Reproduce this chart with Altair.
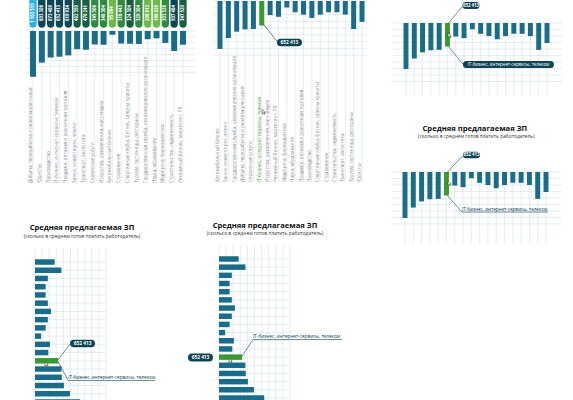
import altair as alt
import pandas as pd

# ---------------- data ----------------
RANK_CATS = [
    "Добыча, переработка и реализация сырья", "Юристы", "Производство",
    "IT-бизнес, интернет-сервисы, телеком", "Продажи, оптовая и розничная торговля",
    "Банки, инвестиции, лизинг", "Транспорт, логистика", "Сервисные услуги",
    "Искусство, развлечения, масс-медиа", "Автомобильный бизнес", "Страхование",
    "Спортивные клубы, фитнес, салоны красоты", "Туризм, гостиницы, рестораны",
    "Государственная служба, некоммерческие организации", "Наука, образование",
    "Медицина, фармацевтика", "Строительство, недвижимость", "Рекламный бизнес, маркетинг, PR",
]
RANK_VALUES = [1163515, 803308, 673469, 652413, 619934, 462350, 476241, 345508, 346304,
               95094, 318443, 324304, 329304, 208913, 186028, 303528, 507464, 347520]
CYAN, DTEAL, DGREEN, MGREEN, LGREEN = "#2ab4e6", "#0d4656", "#17603f", "#2e8b3e", "#6cbb47"
RANK_PILL_COLORS = [CYAN, DTEAL, DTEAL, DTEAL, DTEAL, DGREEN, DGREEN, MGREEN, MGREEN,
                    LGREEN, MGREEN, DGREEN, MGREEN, LGREEN, LGREEN, MGREEN, DTEAL, DGREEN]

CATS = [
    "Автомобильный бизнес", "Банки, инвестиции, лизинг",
    "Государственная служба, некоммерческие организации",
    "Добыча, переработка и реализация сырья", "Сервисные услуги",
    "IT-бизнес, интернет-сервисы, телеком", "Искусство, развлечения, масс-медиа",
    "Рекламный бизнес, маркетинг, PR", "Медицина, фармацевтика", "Наука, образование",
    "Продажи, оптовая и розничная торговля", "Производство",
    "Спортивные клубы, фитнес, салоны красоты", "Страхование",
    "Строительство, недвижимость", "Транспорт, логистика",
    "Туризм, гостиницы, рестораны", "Юристы",
]
VALUES = [1275000, 985000, 815000, 755000, 745000, 652413, 375000, 420000, 172000,
          300000, 362000, 450000, 362000, 300000, 300000, 362000, 745000, 555000]
HIGHLIGHT = "IT-бизнес, интернет-сервисы, телеком"
TITLE = "Средняя предлагаемая ЗП"
SUBTITLE = "(сколько в среднем готов платить работодатель)"

# ---------------- style ----------------
BAR = "#1a6c88"
GREEN = "#3a9a2f"
DARK = "#0e4454"
GRID = "#d2e1e8"
LABEL = "#8c8c8c"
FONT = "Open Sans"
CURSOR = "M0,0 L0,1.1 L0.3,0.82 L0.5,1.22 L0.66,1.14 L0.46,0.76 L0.82,0.76 Z"


def fmt(v):
    return f"{v:,}".replace(",", " ")


HI_VAL = VALUES[CATS.index(HIGHLIGHT)]
ONE = pd.DataFrame({"k": [0]})
main = pd.DataFrame({
    "cat": CATS, "value": VALUES,
    "color": [GREEN if c == HIGHLIGHT else BAR for c in CATS],
    "lcolor": [GREEN if c == HIGHLIGHT else LABEL for c in CATS],
})
rank = pd.DataFrame({
    "cat": RANK_CATS, "value": RANK_VALUES, "pill": RANK_PILL_COLORS,
    "lab": [fmt(v) for v in RANK_VALUES],
})


def band(cats, rng, pi):
    return alt.Scale(type="band", domain=cats, range=rng, paddingInner=pi, paddingOuter=pi / 2)


def lin(dom, rng):
    return alt.Scale(type="linear", domain=dom, range=rng, nice=False)


def pill(xe, ye, x2e, y2e, cx, cy, w, h, color=DARK):
    return alt.Chart(ONE).mark_rule(
        strokeWidth=h, strokeCap="round", color=color,
        xOffset=cx - (w - h) / 2, x2Offset=cx + (w - h) / 2, yOffset=cy, y2Offset=cy,
    ).encode(x=xe, x2=x2e, y=ye, y2=y2e)


def line(xe, ye, x2e, y2e, a, b, c, d, color=DARK, sw=0.6):
    return alt.Chart(ONE).mark_rule(
        strokeWidth=sw, color=color, xOffset=a, yOffset=b, x2Offset=c, y2Offset=d
    ).encode(x=xe, x2=x2e, y=ye, y2=y2e)


def txt(xe, ye, s, dx, dy, size, color="white", weight="bold", align="center", baseline="middle"):
    return alt.Chart(ONE).mark_text(
        font=FONT, fontSize=size, fontWeight=weight, color=color, align=align,
        baseline=baseline, xOffset=dx, yOffset=dy,
    ).encode(x=xe, y=ye, text=alt.value(s))


def cursor(xe, ye, dx, dy):
    return alt.Chart(ONE).mark_point(
        shape=CURSOR, size=64, filled=True, fill="white", stroke="#222222",
        strokeWidth=0.5, opacity=1, xOffset=dx, yOffset=dy,
    ).encode(x=xe, y=ye)


def vertical_base(df, cats, xs, ys, grid_vals, goff, vend, color_field=None, bar_color=BAR):
    X = alt.X("cat:N", scale=xs, axis=None)
    hgrid = alt.Chart(pd.DataFrame({"g": grid_vals})).mark_rule(
        color=GRID, strokeWidth=0.6, xOffset=goff[0], x2Offset=goff[1]
    ).encode(
        x=alt.XDatum(cats[0], type="nominal", scale=xs, axis=None, bandPosition=0.5),
        x2=alt.X2Datum(cats[-1], bandPosition=0.5),
        y=alt.Y("g:Q", scale=ys, axis=None),
    )
    vgrid = alt.Chart(df).mark_rule(color=GRID, strokeWidth=0.6).encode(
        x=X, y=alt.YDatum(0, type="quantitative", scale=ys, axis=None), y2=alt.Y2Datum(vend)
    )
    if color_field:
        bars = alt.Chart(df).mark_bar().encode(
            x=X, y=alt.Y("value:Q", scale=ys, axis=None),
            color=alt.Color(color_field + ":N", scale=None))
    else:
        bars = alt.Chart(df).mark_bar(color=bar_color).encode(
            x=X, y=alt.Y("value:Q", scale=ys, axis=None))
    return [hgrid, vgrid, bars]


def vlabels(df, xs, ys, base, color_field=None):
    enc = dict(x=alt.X("cat:N", scale=xs, axis=None),
               y=alt.YDatum(base, type="quantitative", scale=ys, axis=None), text="cat:N")
    mk = dict(angle=270, align="left", baseline="bottom", fontSize=4.6, font=FONT)
    if color_field:
        return alt.Chart(df).mark_text(**mk).encode(color=alt.Color(color_field + ":N", scale=None), **enc)
    return alt.Chart(df).mark_text(color=LABEL, **mk).encode(**enc)


# ---------------- panel 1: ranked, with value pills ----------------
xs1 = band(RANK_CATS, [28.6, 187.4], 0.32)
ys1 = lin([0, 1200000], [31, 78.24])
p1_layers = vertical_base(rank, RANK_CATS, xs1, ys1, [i * 150000 for i in range(8)], (-7, 12), 3860000)
p1_layers.append(alt.Chart(rank).mark_rule(strokeWidth=7.3, strokeCap="round").encode(
    x=alt.X("cat:N", scale=xs1, axis=None),
    y=alt.YDatum(-1000000, type="quantitative", scale=ys1, axis=None),
    y2=alt.Y2Datum(-178000),
    color=alt.Color("pill:N", scale=None)))
p1_layers.append(alt.Chart(rank).mark_text(
    angle=270, align="center", baseline="middle", fontSize=4.3, fontWeight="bold",
    color="white", font=FONT).encode(
    x=alt.X("cat:N", scale=xs1, axis=None),
    y=alt.YDatum(-457000, type="quantitative", scale=ys1, axis=None), text="lab:N"))
p1_layers.append(vlabels(rank, xs1, ys1, 3860000))
p1 = alt.layer(*p1_layers)

# ---------------- panel 2: alphabetical, labels, pill ----------------
xs2 = band(CATS, [215.8, 366.2], 0.4)
ys2 = lin([0, 1300000], [1, 49.9])
XH2 = alt.XDatum(HIGHLIGHT, type="nominal", scale=xs2, axis=None, bandPosition=0.5)
X2H = alt.X2Datum(HIGHLIGHT, bandPosition=0.5)
YV2 = alt.YDatum(HI_VAL, type="quantitative", scale=ys2, axis=None)
Y2V = alt.Y2Datum(HI_VAL)
p2_layers = vertical_base(main, CATS, xs2, ys2, [i * 180000 for i in range(9)], (-7, 5), 4812000, "color")
p2_layers.append(vlabels(main, xs2, ys2, 4812000, "lcolor"))
p2_layers.append(line(XH2, YV2, X2H, Y2V, 2, -1, 15.5, 16))
p2_layers.append(pill(XH2, YV2, X2H, Y2V, 27.7, 17, 25, 7.5))
p2_layers.append(txt(XH2, YV2, fmt(HI_VAL), 27.7, 17, 4.8))
p2_layers.append(cursor(XH2, YV2, 0.5, 84))
p2 = alt.layer(*p2_layers)

# ---------------- panel 3: top right ----------------
xs3 = band(CATS, [401.85, 551.15], 0.4)
ys3 = lin([0, 1300000], [23, 69.9])
XH3 = alt.XDatum(HIGHLIGHT, type="nominal", scale=xs3, axis=None, bandPosition=0.5)
Y03 = alt.YDatum(0, type="quantitative", scale=ys3, axis=None)
YV3 = alt.YDatum(HI_VAL, type="quantitative", scale=ys3, axis=None)
p3_layers = vertical_base(main, CATS, xs3, ys3, [i * 180000 for i in range(10)], (-13, 15), 2000000, "color")
p3_layers.append(line(XH3, Y03, X2H, alt.Y2Datum(0), 1, 0, 15.5, -17))
p3_layers.append(pill(XH3, Y03, X2H, alt.Y2Datum(0), 23.5, -17.5, 17, 7))
p3_layers.append(txt(XH3, Y03, fmt(HI_VAL), 23.5, -17.5, 4.3))
p3_layers.append(line(XH3, YV3, X2H, alt.Y2Datum(HI_VAL), 1, 0, 15.5, 17.5))
p3_layers.append(pill(XH3, YV3, X2H, alt.Y2Datum(HI_VAL), 61, 18, 91, 7))
p3_layers.append(txt(XH3, YV3, HIGHLIGHT, 61, 18, 4.4, weight="normal"))
p3_layers.append(cursor(XH3, Y03, 0.5, 10))
p3 = alt.layer(*p3_layers)

# ---------------- panel 4: right middle, with title ----------------
xs4 = band(CATS, [400.85, 550.15], 0.4)
ys4 = lin([0, 1300000], [172, 218.9])
XH4 = alt.XDatum(HIGHLIGHT, type="nominal", scale=xs4, axis=None, bandPosition=0.5)
Y04 = alt.YDatum(0, type="quantitative", scale=ys4, axis=None)
YV4 = alt.YDatum(HI_VAL, type="quantitative", scale=ys4, axis=None)
XT4 = alt.XDatum(CATS[8], type="nominal", scale=xs4, axis=None, bandPosition=0.5)
p4_layers = vertical_base(main, CATS, xs4, ys4, [i * 180000 for i in range(9)], (-13, 15), 2000000, "color")
p4_layers.append(txt(XT4, Y04, TITLE, 3.5, -41, 7.6, color="#111111", baseline="alphabetic"))
p4_layers.append(txt(XT4, Y04, SUBTITLE, 5, -34.5, 4.9, color="#333333", weight="normal", baseline="alphabetic"))
p4_layers.append(line(XH4, Y04, X2H, alt.Y2Datum(0), 1, 0, 16, -16))
p4_layers.append(pill(XH4, Y04, X2H, alt.Y2Datum(0), 25, -17, 17, 6.5))
p4_layers.append(txt(XH4, Y04, fmt(HI_VAL), 25, -17, 4.3))
p4_layers.append(line(XH4, YV4, X2H, alt.Y2Datum(HI_VAL), 1, 0, 15.5, 16.5))
p4_layers.append(line(XH4, YV4, X2H, alt.Y2Datum(HI_VAL), 15.5, 16.5, 101.5, 16.5))
p4_layers.append(txt(XH4, YV4, HIGHLIGHT, 15.5, 15, 4.6, color=DARK, weight="normal",
                     align="left", baseline="alphabetic"))
p4_layers.append(cursor(XH4, Y04, 1.5, 9))
p4 = alt.layer(*p4_layers)

# ---------------- horizontal panels ----------------
CATS_TD = CATS[::-1]


def horizontal_panel(xs, ys, title_x, title_dy, sub_dy):
    Y = alt.Y("cat:N", scale=ys, axis=None)
    YT = alt.YDatum(CATS_TD[0], type="nominal", scale=ys, axis=None, bandPosition=0.5)
    XT = alt.XDatum(title_x, type="quantitative", scale=xs, axis=None)
    rows = alt.Chart(main).mark_rule(color=GRID, strokeWidth=0.6).encode(
        x=alt.XDatum(0, type="quantitative", scale=xs, axis=None), x2=alt.X2Datum(2000000), y=Y)
    cols = alt.Chart(pd.DataFrame({"g": [i * 200000 for i in range(11)]})).mark_rule(
        color=GRID, strokeWidth=0.6, yOffset=-14, y2Offset=20).encode(
        x=alt.X("g:Q", scale=xs, axis=None), y=YT,
        y2=alt.Y2Datum(CATS_TD[-1], bandPosition=0.5))
    bars = alt.Chart(main).mark_bar().encode(
        x=alt.X("value:Q", scale=xs, axis=None), y=Y, color=alt.Color("color:N", scale=None))
    t1 = txt(XT, YT, TITLE, 0, title_dy, 7.6, color="#111111", baseline="alphabetic")
    t2 = txt(XT, YT, SUBTITLE, 0, sub_dy, 4.9, color="#333333", weight="normal", baseline="alphabetic")
    return [rows, cols, bars, t1, t2]


# panel 5: bottom left
xs5 = lin([0, 1300000], [35, 81.1])
ys5 = band(CATS_TD, [257.9, 406.1], 0.33)
XV5 = alt.XDatum(HI_VAL, type="quantitative", scale=xs5, axis=None)
X05 = alt.XDatum(0, type="quantitative", scale=xs5, axis=None)
YH5 = alt.YDatum(HIGHLIGHT, type="nominal", scale=ys5, axis=None, bandPosition=0.5)
X2V5 = alt.X2Datum(HI_VAL)
Y2H5 = alt.Y2Datum(HIGHLIGHT, bandPosition=0.5)
p5_layers = horizontal_panel(xs5, ys5, 1325000, -31.6, -23.6)
p5_layers.append(line(XV5, YH5, X2V5, Y2H5, 0, -1, 12, -17))
p5_layers.append(pill(XV5, YH5, X2V5, Y2H5, 24.4, -17.3, 25, 7.5))
p5_layers.append(txt(XV5, YH5, fmt(HI_VAL), 24.4, -17.3, 4.8))
p5_layers.append(line(XV5, YH5, X2V5, Y2H5, 0, 1, 10, 19.7))
p5_layers.append(line(XV5, YH5, X2V5, Y2H5, 10, 19.7, 97, 19.7))
p5_layers.append(txt(XV5, YH5, HIGHLIGHT, 10, 18.2, 4.7, color=DARK, weight="normal",
                     align="left", baseline="alphabetic"))
p5_layers.append(cursor(X05, YH5, 10, 1))
p5 = alt.layer(*p5_layers)

# panel 6: bottom middle
xs6 = lin([0, 1300000], [219, 265.1])
ys6 = band(CATS_TD, [254.9, 402.1], 0.33)
XV6 = alt.XDatum(HI_VAL, type="quantitative", scale=xs6, axis=None)
X06 = alt.XDatum(0, type="quantitative", scale=xs6, axis=None)
YH6 = alt.YDatum(HIGHLIGHT, type="nominal", scale=ys6, axis=None, bandPosition=0.5)
X2V6 = alt.X2Datum(HI_VAL)
Y2H6 = alt.Y2Datum(HIGHLIGHT, bandPosition=0.5)
p6_layers = horizontal_panel(xs6, ys6, 1297000, -31, -23.5)
p6_layers.append(pill(X06, YH6, alt.X2Datum(0), Y2H6, -18.5, 0.5, 25, 8))
p6_layers.append(txt(X06, YH6, fmt(HI_VAL), -18.5, 0.5, 4.8))
p6_layers.append(line(XV6, YH6, X2V6, Y2H6, 0, -1, 10.9, -17.6))
p6_layers.append(line(XV6, YH6, X2V6, Y2H6, 10.9, -17.6, 99.9, -17.6))
p6_layers.append(txt(XV6, YH6, HIGHLIGHT, 10.9, -19, 4.7, color=DARK, weight="normal",
                     align="left", baseline="alphabetic"))
p6_layers.append(cursor(X06, YH6, 10, 1))
p6 = alt.layer(*p6_layers)

chart = alt.layer(p1, p2, p3, p4, p5, p6).resolve_scale(
    x="independent", y="independent"
).properties(
    width=573, height=400, autosize=alt.AutoSizeParams(type="none"), padding=0,
    background="white",
).configure_view(stroke=None)

chart.save("out.html", embed_options={"renderer": "svg", "actions": False})
